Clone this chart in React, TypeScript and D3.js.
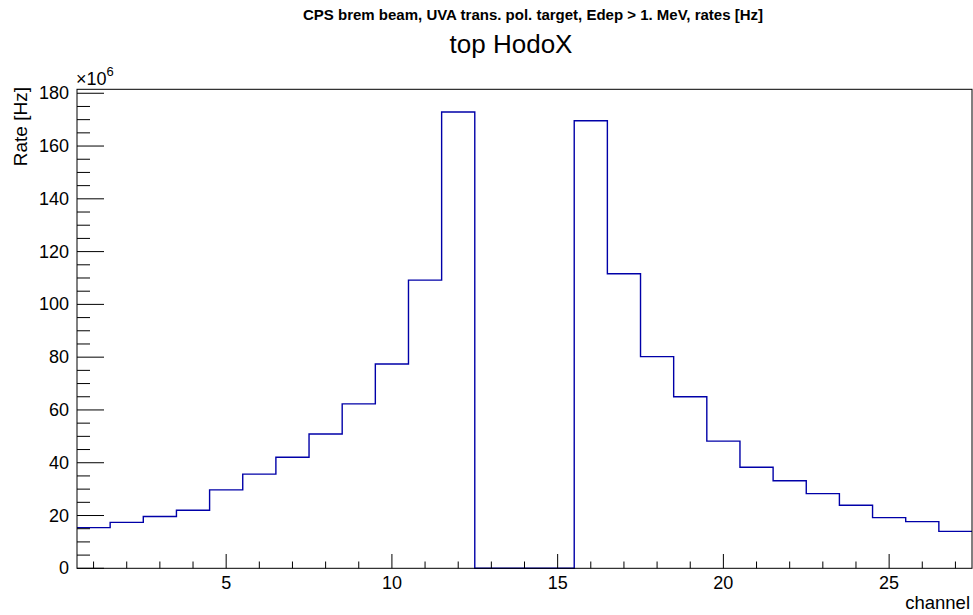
import React from "react";
import * as d3 from "d3";

const channels = d3.range(1, 28);
const rates = [15.4, 17.4, 19.6, 22.0, 29.7, 35.7, 42.1, 50.9, 62.3, 77.4, 109.2, 172.9, 0, 0, 0, 169.6, 111.6, 80.2, 65.0, 48.2, 38.3, 33.2, 28.3, 23.9, 19.2, 17.7, 14.0];
const yMajorTicks = [0, 20, 40, 60, 80, 100, 120, 140, 160, 180];
const xMajorTicks = [5, 10, 15, 20, 25];

const W = 973, H = 615;
const FONT = "'Liberation Sans', Arial, Helvetica, sans-serif";

export default function App() {
  const x = d3.scaleLinear().domain([0.5, 27.5]).range([77, 972]);
  const y = d3.scaleLinear().domain([0, 181.5]).range([568.3, 89.3]);

  const pts: [number, number][] = [];
  channels.forEach((c, i) => {
    pts.push([x(c - 0.5), y(rates[i])]);
    pts.push([x(c + 0.5), y(rates[i])]);
  });
  const path = d3.line()(pts) as string;

  const yMinor = d3.range(0, 181, 5).filter((v) => v % 20 !== 0);
  const xMinor = d3.range(1, 28).filter((v) => v % 5 !== 0);

  return (
    <svg width={W} height={H} style={{ position: "absolute", left: 0, top: 0, background: "#fff" }} fontFamily={FONT}>
      <rect x={0} y={0} width={W} height={H} fill="#fff" />
      <text x={533} y={20} textAnchor="middle" fontWeight="bold" fontSize={15}>
        CPS brem beam, UVA trans. pol. target, Edep &gt; 1. MeV, rates [Hz]
      </text>
      <text x={511} y={53} textAnchor="middle" fontSize={26}>top HodoX</text>

      <path d={path} fill="none" stroke="#0000a8" strokeWidth={1.4} />

      <rect x={x.range()[0]} y={y.range()[1]} width={x.range()[1] - x.range()[0]} height={y.range()[0] - y.range()[1]} fill="none" stroke="#000" strokeWidth={1} />

      {yMajorTicks.map((v) => (
        <g key={"ym" + v}>
          <line x1={77} x2={104} y1={y(v)} y2={y(v)} stroke="#000" />
          <text x={69} y={y(v) + 6} textAnchor="end" fontSize={18}>{v}</text>
        </g>
      ))}
      {yMinor.map((v) => (
        <line key={"yn" + v} x1={77} x2={90} y1={y(v)} y2={y(v)} stroke="#000" />
      ))}
      {xMajorTicks.map((v) => (
        <g key={"xm" + v}>
          <line x1={x(v)} x2={x(v)} y1={568.3} y2={554} stroke="#000" />
          <text x={x(v)} y={589} textAnchor="middle" fontSize={18}>{v}</text>
        </g>
      ))}
      {xMinor.map((v) => (
        <line key={"xn" + v} x1={x(v)} x2={x(v)} y1={568.3} y2={561.5} stroke="#000" />
      ))}

      <text x={76} y={85} fontSize={18}>×10<tspan dy={-9} fontSize={13}>6</tspan></text>
      <text transform="translate(27,87) rotate(-90)" textAnchor="end" fontSize={19}>Rate [Hz]</text>
      <text x={970} y={609} textAnchor="end" fontSize={18.5}>channel</text>
    </svg>
  );
}
